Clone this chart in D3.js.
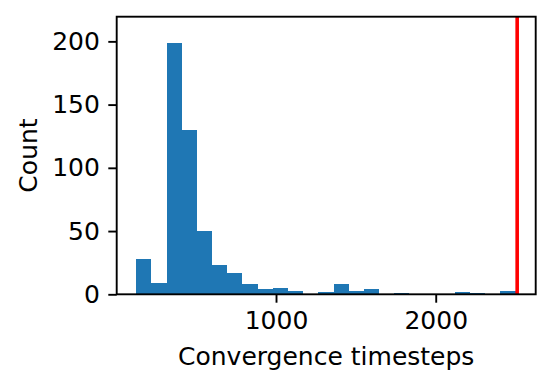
<!DOCTYPE html>
<html>
<head>
<meta charset="utf-8">
<script src="https://cdn.jsdelivr.net/npm/d3@7"></script>
<style>
  body { margin: 0; background: #fff; }
  svg { display: block; }
  text { font-family: "DejaVu Sans", sans-serif; fill: #000; }
</style>
</head>
<body>
<svg width="553" height="388"></svg>
<script>
// Histogram bins (edges) and counts
var binEdges = [125, 220, 315, 410, 505, 600, 695, 790, 885, 980, 1075, 1170, 1265,
                1360, 1455, 1550, 1645, 1740, 1835, 1930, 2025, 2120, 2215, 2310, 2405, 2500];
var counts = [28, 9, 199, 130, 50, 23, 17, 8, 4, 5, 3, 0, 2,
              8, 3, 4, 0, 1, 0, 0, 0, 2, 1, 0, 3];
var xTicks = [1000, 2000];
var yTicks = [0, 50, 100, 150, 200];
var limitLine = 2510;   // red vertical marker

var xLabel = "Convergence timesteps",
    yLabel = "Count";

// Builds the bins table from the two arrays
var bins = counts.map(function(c, i) {
    return { x0: binEdges[i], x1: binEdges[i + 1], count: c };
});

var svg = d3.select("svg"),
    margin = { top: 16.7, right: 17.3, bottom: 93.7, left: 116.7 },
    width = +svg.attr("width") - margin.left - margin.right,
    height = +svg.attr("height") - margin.top - margin.bottom;

var fontSize = 25;

var x = d3.scaleLinear().domain([2.5, 2626]).range([0, width]),
    y = d3.scaleLinear().domain([0, 219.5]).range([height, 0]);

var g = svg.append("g")
    .attr("transform", "translate(" + margin.left + "," + margin.top + ")");

// bars (crisp edges so neighbouring bars don't show seams)
g.selectAll(".bar")
    .data(bins)
    .enter().append("rect")
    .attr("class", "bar")
    .attr("x", function(d) { return x(d.x0); })
    .attr("width", function(d) { return x(d.x1) - x(d.x0); })
    .attr("y", function(d) { return y(d.count); })
    .attr("height", function(d) { return y(0) - y(d.count); })
    .attr("fill", "#1f77b4")
    .attr("shape-rendering", "crispEdges");

// red line
g.append("line")
    .attr("x1", x(limitLine)).attr("x2", x(limitLine))
    .attr("y1", 0).attr("y2", height)
    .attr("stroke", "#ff0000")
    .attr("stroke-width", 3.6);

// axes
var xAxis = d3.axisBottom(x).tickValues(xTicks).tickSize(8.4).tickPadding(8.4).tickFormat(d3.format("d")),
    yAxis = d3.axisLeft(y).tickValues(yTicks).tickSize(8.4).tickPadding(8.4).tickFormat(d3.format("d"));

var gx = g.append("g")
    .attr("transform", "translate(0," + height + ")")
    .call(xAxis);
var gy = g.append("g").call(yAxis);

[gx, gy].forEach(function(a) {
    a.select(".domain").remove();
    a.selectAll(".tick line").attr("stroke", "#000").attr("stroke-width", 1.9);
    a.selectAll(".tick text").style("font-size", fontSize + "px");
});

// frame (spines)
g.append("rect")
    .attr("width", width)
    .attr("height", height)
    .attr("fill", "none")
    .attr("stroke", "#000")
    .attr("stroke-width", 1.9);

// labels
g.append("text")
    .attr("x", width / 2)
    .attr("y", 365 - margin.top)
    .attr("text-anchor", "middle")
    .style("font-size", fontSize + "px")
    .text(xLabel);

g.append("text")
    .attr("transform", "translate(" + (37 - margin.left) + "," + (height / 2) + ") rotate(-90)")
    .attr("text-anchor", "middle")
    .style("font-size", fontSize + "px")
    .text(yLabel);
</script>
</body>
</html>
